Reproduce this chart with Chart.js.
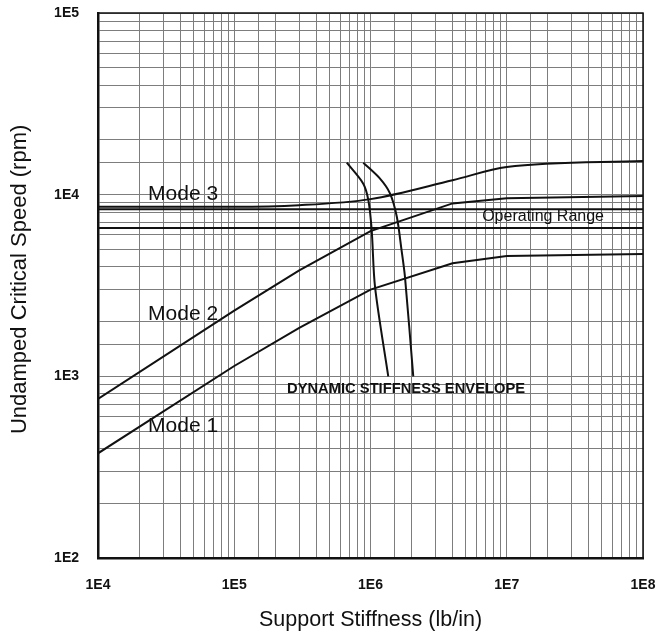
<!DOCTYPE html>
<html>
<head>
<meta charset="utf-8">
<script src="https://cdn.jsdelivr.net/npm/chart.js@4/dist/chart.umd.min.js"></script>
<style>
  html, body { margin: 0; padding: 0; background: #fff; }
  canvas { display: block; }
</style>
</head>
<body>
<canvas id="critSpeedChart" width="659" height="637"></canvas>
<script>
// support stiffness (lb/in) at which the mode curves were read
const stiffness = [1e4, 1e5, 3e5, 1e6, 4e6, 1e7, 1e8];
const mode1 = [377, 1140, 1850, 3000, 4190, 4600, 4720];
const mode2 = [750, 2300, 3830, 6300, 8950, 9550, 9830];
const mode3 = [8580, 8580, 8750, 9450, 12000, 14200, 15300];

// operating range (rpm)
const rangeX = [1e4, 1e8];
const opLow = 6550;
const opHigh = 8300;

// dynamic stiffness envelope, two bounding curves
const envLeftX = [6.7e5, 8.85e5, 9.65e5, 1.02e6, 1.08e6, 1.35e6];
const envLeftY = [15000, 11500, 9300, 6400, 3100, 1000];
const envRightX = [8.85e5, 1.17e6, 1.39e6, 1.56e6, 1.69e6, 1.79e6, 2.06e6];
const envRightY = [15000, 12300, 10170, 7560, 4950, 3535, 1000];

// text notes placed in data coordinates
const noteText = ['Mode 3', 'Mode 2', 'Mode 1', 'Operating Range', 'DYNAMIC STIFFNESS ENVELOPE'];
const noteX = [2.33e4, 2.33e4, 2.33e4, 6.6e6, 2.44e5];
const noteY = [10070, 2200, 532, 7530, 851];

const pts = (xs, ys) => xs.map((x, i) => ({ x: x, y: ys[i] }));
const flat = (v) => rangeX.map(x => ({ x: x, y: v }));

const lineStyle = {
    showLine: true,
    pointRadius: 0,
    borderColor: '#111',
    borderWidth: 2,
    fill: false
};

const notesPlugin = {
    id: 'notes',
    afterDatasetsDraw(chart) {
        const c = chart.ctx;
        const xs = chart.scales.x, ys = chart.scales.y;
        c.save();
        c.fillStyle = '#111';
        c.textBaseline = 'middle';
        c.textAlign = 'left';
        noteText.forEach((t, i) => {
            const px = xs.getPixelForValue(noteX[i]);
            const py = ys.getPixelForValue(noteY[i]);
            if (i < 3) {
                c.font = '21px "Liberation Sans", Arial, sans-serif';
                c.fillText(t, px, py, 72);
            } else if (i === 3) {
                c.font = '16px "Liberation Sans", Arial, sans-serif';
                c.fillText(t, px, py, 126);
            } else {
                c.font = 'bold 15px "Liberation Sans", Arial, sans-serif';
                c.fillText(t, px, py, 238);
            }
        });
        // frame round the plot
        const a = chart.chartArea;
        c.strokeStyle = '#111';
        c.lineWidth = 1.5;
        c.beginPath();
        c.moveTo(a.left, a.top);
        c.lineTo(a.right, a.top);
        c.lineTo(a.right, a.bottom);
        c.stroke();
        c.restore();
    }
};

const sciLabel = (v) => {
    const e = Math.log10(v);
    return Math.abs(e - Math.round(e)) < 1e-9 ? '1E' + Math.round(e) : '';
};

// fixed axis sizes; drop the label overhang so the layout padding decides the plot box
const fixSize = (w, h) => (s) => {
    if (w) s.width = w;
    if (h) s.height = h;
    s.paddingTop = 0;
    s.paddingBottom = 0;
    s.paddingLeft = 0;
    s.paddingRight = 0;
};

const ctx = document.getElementById('critSpeedChart').getContext('2d');
const chart = new Chart(ctx, {
    type: 'scatter',
    data: {
        datasets: [
            { label: 'Mode 1', data: pts(stiffness, mode1), ...lineStyle },
            { label: 'Mode 2', data: pts(stiffness, mode2), ...lineStyle },
            { label: 'Mode 3', data: pts(stiffness, mode3), ...lineStyle, cubicInterpolationMode: 'monotone' },
            { label: 'Op high', data: flat(opHigh), ...lineStyle },
            { label: 'Op low', data: flat(opLow), ...lineStyle },
            { label: 'Env left', data: pts(envLeftX, envLeftY), ...lineStyle, tension: 0.3 },
            { label: 'Env right', data: pts(envRightX, envRightY), ...lineStyle, tension: 0.3 }
        ]
    },
    options: {
        responsive: false,
        animation: false,
        devicePixelRatio: 1,
        layout: { padding: { top: 13, right: 16, left: 0, bottom: 0 } },
        plugins: {
            legend: { display: false },
            tooltip: { enabled: false }
        },
        scales: {
            x: {
                type: 'logarithmic',
                min: 1e4,
                max: 1e8,
                afterFit: fixSize(0, 79),
                grid: { color: '#7d7d7d', lineWidth: 1, drawTicks: false },
                border: { color: '#111', width: 2.5 },
                ticks: {
                    autoSkip: false,
                    maxRotation: 0,
                    padding: 19,
                    color: '#111',
                    font: { family: '"Liberation Sans", Arial, sans-serif', size: 14, weight: 'bold' },
                    callback: sciLabel
                },
                title: {
                    display: true,
                    text: 'Support Stiffness (lb/in)',
                    color: '#111',
                    font: { family: '"Liberation Sans", Arial, sans-serif', size: 21.5 },
                    padding: { top: 0, bottom: 4 }
                }
            },
            y: {
                type: 'logarithmic',
                min: 1e2,
                max: 1e5,
                afterFit: fixSize(98, 0),
                grid: { color: '#7d7d7d', lineWidth: 1, drawTicks: false },
                border: { color: '#111', width: 2.5 },
                ticks: {
                    autoSkip: false,
                    padding: 19,
                    color: '#111',
                    font: { family: '"Liberation Sans", Arial, sans-serif', size: 14, weight: 'bold' },
                    callback: sciLabel
                },
                title: {
                    display: true,
                    text: '  Undamped Critical Speed (rpm)',
                    color: '#111',
                    font: { family: '"Liberation Sans", Arial, sans-serif', size: 22 },
                    padding: { top: 7, bottom: 0 }
                }
            }
        }
    },
    plugins: [notesPlugin]
});
</script>
</body>
</html>
